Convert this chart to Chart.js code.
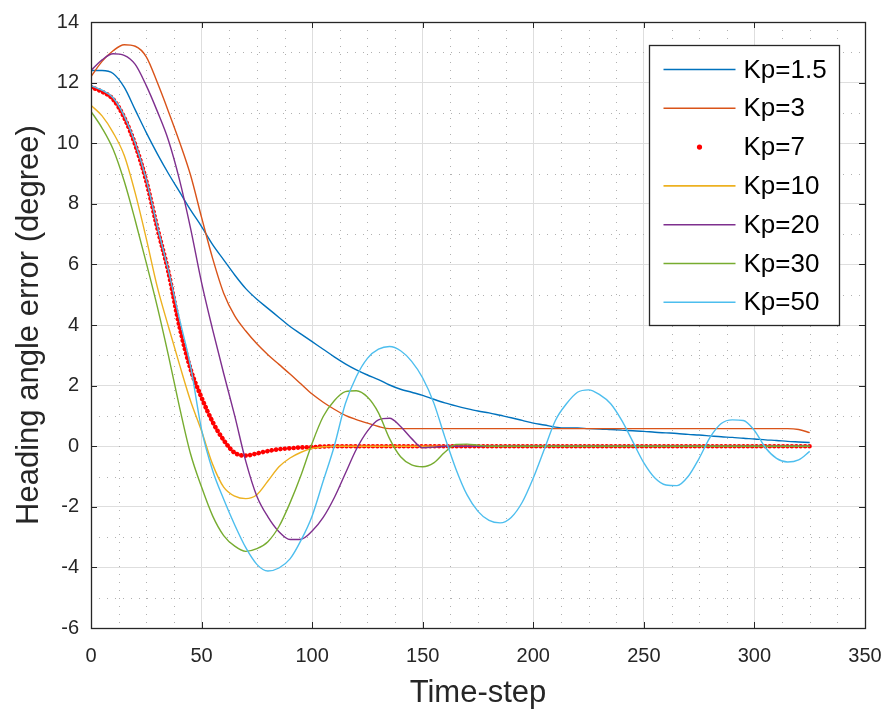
<!DOCTYPE html>
<html>
<head>
<meta charset="utf-8">
<script src="https://cdn.jsdelivr.net/npm/chart.js@4.4.1/dist/chart.umd.min.js"></script>
<style>
  body { margin: 0; background: #fff; }
  canvas { display: block; }
</style>
</head>
<body>
<canvas id="chart" width="885" height="712"></canvas>
<script>
// time-step samples (every 5 steps)
const timeSteps = [0, 5, 10, 15, 20, 25, 30, 35, 40, 45, 50, 55, 60, 65, 70, 75, 80, 85, 90, 95,
  100, 105, 110, 115, 120, 125, 130, 135, 140, 145, 150, 155, 160, 165, 170, 175, 180, 185, 190, 195,
  200, 205, 210, 215, 220, 225, 230, 235, 240, 245, 250, 255, 260, 265, 270, 275, 280, 285, 290, 295,
  300, 305, 310, 315, 320, 325];

const kp1_5 = [12.4, 12.4, 12.3, 11.85, 11.1, 10.35, 9.65, 9.0, 8.4, 7.8, 7.25, 6.65, 6.15, 5.65, 5.2, 4.85, 4.55, 4.25, 3.95, 3.7,
  3.45, 3.2, 2.95, 2.72, 2.52, 2.35, 2.2, 2.02, 1.88, 1.78, 1.68, 1.55, 1.43, 1.33, 1.24, 1.16, 1.1, 1.02, 0.94, 0.85,
  0.76, 0.7, 0.63, 0.6, 0.6, 0.58, 0.57, 0.55, 0.53, 0.51, 0.49, 0.46, 0.44, 0.42, 0.39, 0.37, 0.34, 0.31, 0.29, 0.26,
  0.24, 0.21, 0.19, 0.16, 0.14, 0.12];

const kp3 = [12.2, 12.7, 13.05, 13.25, 13.2, 12.85, 12.0, 11.05, 10.05, 8.95, 7.55, 6.2, 5.05, 4.3, 3.8, 3.38, 3.02, 2.7, 2.38, 2.05,
  1.72, 1.45, 1.22, 1.02, 0.88, 0.76, 0.65, 0.58, 0.58, 0.58, 0.58, 0.58, 0.58, 0.58, 0.58, 0.58, 0.58, 0.58, 0.58, 0.58,
  0.58, 0.58, 0.58, 0.58, 0.58, 0.58, 0.58, 0.58, 0.58, 0.58, 0.58, 0.58, 0.58, 0.58, 0.58, 0.58, 0.58, 0.58, 0.58, 0.58,
  0.58, 0.58, 0.58, 0.58, 0.55, 0.45];

const kp7 = [11.85, 11.7, 11.45, 10.85, 9.95, 8.75, 7.2, 5.75, 3.95, 2.55, 1.6, 0.8, 0.2, -0.22, -0.31, -0.24, -0.16, -0.1, -0.07, -0.04,
  -0.03, -0.01, 0, 0, 0, 0, 0, 0, 0, 0, 0, 0, 0, 0, 0, 0, 0, 0, 0, 0,
  0, 0, 0, 0, 0, 0, 0, 0, 0, 0, 0, 0, 0, 0, 0, 0, 0, 0, 0, 0,
  0, 0, 0, 0, 0, 0];

const kp10 = [11.25, 10.9, 10.35, 9.6, 8.35, 6.85, 5.25, 3.95, 2.7, 1.5, 0.5, -0.6, -1.35, -1.65, -1.73, -1.6, -1.15, -0.68, -0.39, -0.2,
  -0.07, -0.02, 0, 0, 0, 0, 0, 0, 0, 0, 0, 0, 0, 0, 0, 0, 0, 0, 0, 0,
  0, 0, 0, 0, 0, 0, 0, 0, 0, 0, 0, 0, 0, 0, 0, 0, 0, 0, 0, 0,
  0, 0, 0, 0, 0, 0];

const kp20 = [12.4, 12.75, 12.95, 12.9, 12.6, 11.9, 11.05, 10.1, 8.8, 7.2, 5.4, 3.85, 2.4, 1.0, -0.5, -1.65, -2.33, -2.82, -3.08, -3.07,
  -2.8, -2.35, -1.7, -0.9, -0.1, 0.5, 0.87, 0.92, 0.65, 0.25, -0.05, -0.03, 0, 0, 0, 0, 0, 0, 0, 0,
  0, 0, 0, 0, 0, 0, 0, 0, 0, 0, 0, 0, 0, 0, 0, 0, 0, 0, 0, 0,
  0, 0, 0, 0, 0, 0];

const kp30 = [11.05, 10.5, 9.8, 8.75, 7.45, 6.05, 4.6, 3.0, 1.3, -0.25, -1.35, -2.3, -2.95, -3.3, -3.47, -3.38, -3.15, -2.65, -1.87, -0.95,
  0.1, 0.98, 1.5, 1.8, 1.83, 1.62, 1.1, 0.25, -0.35, -0.62, -0.68, -0.55, -0.2, 0.06, 0.07, 0.03, 0, 0, 0, 0,
  0, 0, 0, 0, 0, 0, 0, 0, 0, 0, 0, 0, 0, 0, 0, 0, 0, 0, 0, 0,
  0, 0, 0, 0, 0, 0];

const kp50 = [11.9, 11.75, 11.5, 10.9, 10.0, 8.8, 7.25, 5.8, 4.2, 2.65, 0.55, -0.8, -1.75, -2.6, -3.35, -3.9, -4.12, -4.02, -3.72, -3.1,
  -2.3, -1.15, 0.0, 1.4, 2.3, 2.9, 3.2, 3.29, 3.15, 2.8, 2.25, 1.43, 0.3, -0.75, -1.6, -2.15, -2.45, -2.53, -2.35, -1.85,
  -1.05, -0.1, 0.85, 1.4, 1.78, 1.86, 1.7, 1.4, 0.85, 0.15, -0.55, -1.05, -1.28, -1.3, -1.0, -0.4, 0.3, 0.75, 0.87, 0.85,
  0.52, -0.05, -0.4, -0.52, -0.45, -0.17];

const seriesLabels = ['Kp=1.5', 'Kp=3', 'Kp=7', 'Kp=10', 'Kp=20', 'Kp=30', 'Kp=50'];
const seriesValues = [kp1_5, kp3, kp7, kp10, kp20, kp30, kp50];
const seriesColors = ['#0072BD', '#D95319', '#FF0000', '#EDB120', '#7E2F8E', '#77AC30', '#4DBEEE'];
const dotted = 2; // Kp=7 is drawn as markers

const xTicks = { min: 0, max: 350, major: 50, minor: 12.5 };
const yTicks = { min: -6, max: 14, major: 2, minor: 1 };

const textColor = '#262626';
Chart.defaults.font.family = "'Liberation Sans', Arial, sans-serif";

// dotted minor grid like MATLAB's "grid minor"
const minorGrid = {
  id: 'minorGrid',
  beforeDatasetsDraw(chart) {
    const { ctx, chartArea: a, scales: { x, y } } = chart;
    ctx.save();
    ctx.strokeStyle = '#b0b0b0';
    ctx.lineWidth = 1;
    ctx.setLineDash([1, 7]);
    ctx.beginPath();
    for (let v = xTicks.min; v <= xTicks.max; v += xTicks.minor) {
      if (v % xTicks.major === 0) continue;
      const px = Math.round(x.getPixelForValue(v)) + 0.5;
      ctx.moveTo(px, a.top);
      ctx.lineTo(px, a.bottom);
    }
    for (let v = yTicks.min; v <= yTicks.max; v += yTicks.minor) {
      if (v % yTicks.major === 0) continue;
      const py = Math.round(y.getPixelForValue(v)) + 0.5;
      ctx.moveTo(a.left, py);
      ctx.lineTo(a.right, py);
    }
    ctx.stroke();
    ctx.restore();
  }
};

// box around the axes, inward ticks, and the legend inside the plot
const frameAndLegend = {
  id: 'frameAndLegend',
  afterDatasetsDraw(chart) {
    const { ctx, chartArea: a, scales: { x, y } } = chart;
    ctx.save();
    ctx.strokeStyle = textColor;
    ctx.lineWidth = 1;
    ctx.beginPath();
    for (let v = xTicks.min; v <= xTicks.max; v += xTicks.major) {
      const px = Math.round(x.getPixelForValue(v)) + 0.5;
      ctx.moveTo(px, a.bottom); ctx.lineTo(px, a.bottom - 6);
      ctx.moveTo(px, a.top); ctx.lineTo(px, a.top + 6);
    }
    for (let v = yTicks.min; v <= yTicks.max; v += yTicks.major) {
      const py = Math.round(y.getPixelForValue(v)) + 0.5;
      ctx.moveTo(a.left, py); ctx.lineTo(a.left + 6, py);
      ctx.moveTo(a.right, py); ctx.lineTo(a.right - 6, py);
    }
    ctx.stroke();
    ctx.lineWidth = 1.3;
    ctx.strokeRect(Math.round(a.left) + 0.5, Math.round(a.top) + 0.5, Math.round(a.right - a.left), Math.round(a.bottom - a.top));

    // legend
    const boxW = 190, boxH = 280;
    const bx = Math.round(a.right - 26 - boxW) + 0.5;
    const by = Math.round(a.top + 23) + 0.5;
    ctx.fillStyle = '#fff';
    ctx.fillRect(bx, by, boxW, boxH);
    ctx.strokeStyle = textColor;
    ctx.lineWidth = 1.3;
    ctx.strokeRect(bx, by, boxW, boxH);
    ctx.font = "26px 'Liberation Sans', Arial, sans-serif";
    ctx.textBaseline = 'middle';
    ctx.textAlign = 'left';
    chart.data.datasets.forEach((ds, i) => {
      const ry = by + 24 + i * 38.8;
      const lx0 = bx + 14, lx1 = bx + 86;
      if (i === dotted) {
        ctx.fillStyle = ds.borderColor;
        ctx.beginPath();
        ctx.arc((lx0 + lx1) / 2, ry, 2.6, 0, Math.PI * 2);
        ctx.fill();
      } else {
        ctx.strokeStyle = ds.borderColor;
        ctx.lineWidth = 1.6;
        ctx.beginPath();
        ctx.moveTo(lx0, ry);
        ctx.lineTo(lx1, ry);
        ctx.stroke();
      }
      ctx.fillStyle = '#000';
      ctx.fillText(ds.label, bx + 94, ry + 1);
    });
    ctx.restore();
  }
};

const datasets = seriesValues.map((vals, i) => ({
  label: seriesLabels[i],
  data: timeSteps.map((t, k) => ({ x: t, y: vals[k] })),
  borderColor: seriesColors[i],
  borderWidth: i === dotted ? 4.6 : 1.4,
  borderDash: i === dotted ? [0.01, 4.4] : [],
  borderCapStyle: i === dotted ? 'round' : 'butt',
  pointRadius: 0,
  fill: false,
  cubicInterpolationMode: 'monotone',
  order: seriesValues.length - i
}));

new Chart(document.getElementById('chart'), {
  type: 'line',
  data: { datasets },
  options: {
    responsive: false,
    animation: false,
    layout: { padding: { top: 22, right: 20, left: 0, bottom: 0 } },
    plugins: { legend: { display: false }, tooltip: { enabled: false } },
    scales: {
      x: {
        type: 'linear',
        min: xTicks.min,
        max: xTicks.max,
        afterFit(scale) { scale.height = 84; scale.paddingLeft = 0; scale.paddingRight = 0; },
        ticks: { stepSize: xTicks.major, color: textColor, font: { size: 20 }, padding: 16, maxRotation: 0 },
        grid: { color: '#dedede', lineWidth: 1, drawTicks: false },
        border: { display: false },
        title: { display: true, text: 'Time-step', color: textColor, font: { size: 31 }, padding: { top: 0, bottom: 0 } }
      },
      y: {
        type: 'linear',
        min: yTicks.min,
        max: yTicks.max,
        afterFit(scale) { scale.width = 91; scale.paddingTop = 0; scale.paddingBottom = 0; },
        ticks: { stepSize: yTicks.major, color: textColor, font: { size: 20 }, padding: 12 },
        grid: { color: '#dedede', lineWidth: 1, drawTicks: false },
        border: { display: false },
        title: { display: true, text: 'Heading angle error (degree)', color: textColor, font: { size: 31 }, padding: { top: 11, bottom: 0 } }
      }
    }
  },
  plugins: [minorGrid, frameAndLegend]
});
</script>
</body>
</html>
